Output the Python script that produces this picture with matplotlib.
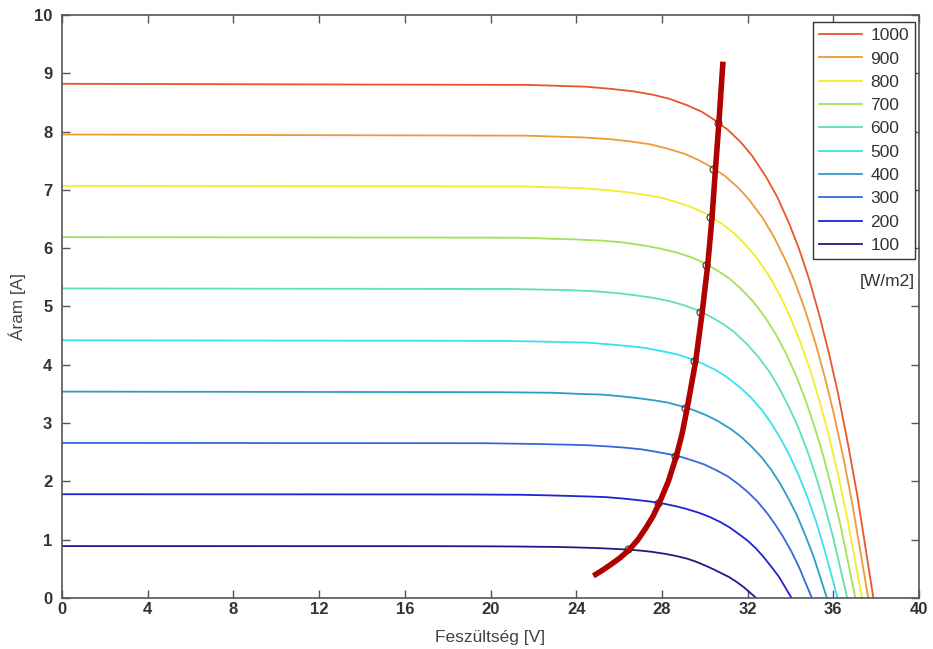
import matplotlib
matplotlib.use("Agg")
import matplotlib.pyplot as plt

# I-V curves, one pair of lists per irradiance [W/m2]
v_1000 = [0, 21.81, 24.46, 25.70, 26.68, 27.61, 28.37, 29.19, 29.86, 30.45, 31.08, 31.70, 32.20, 32.85,
          33.38, 33.92, 34.39, 34.87, 35.35, 35.80, 36.21, 36.68, 37.12, 37.87]
i_1000 = [8.82, 8.80, 8.77, 8.73, 8.69, 8.63, 8.56, 8.45, 8.34, 8.20, 8.03, 7.81, 7.59, 7.23,
          6.88, 6.44, 6.00, 5.47, 4.85, 4.19, 3.53, 2.65, 1.76, 0]

v_900 = [0, 21.68, 24.33, 25.56, 26.55, 27.48, 28.23, 29.05, 29.72, 30.31, 30.94, 31.55, 32.05, 32.70,
         33.22, 33.76, 34.22, 34.69, 35.17, 35.61, 36.01, 36.48, 36.90, 37.63]
i_900 = [7.95, 7.93, 7.90, 7.87, 7.83, 7.78, 7.71, 7.62, 7.51, 7.39, 7.24, 7.04, 6.84, 6.52,
         6.20, 5.80, 5.41, 4.93, 4.37, 3.78, 3.18, 2.39, 1.59, 0]

v_800 = [0, 21.50, 24.15, 25.38, 26.36, 27.29, 28.05, 28.87, 29.53, 30.12, 30.75, 31.36, 31.85, 32.49,
         33.01, 33.55, 34.00, 34.47, 34.94, 35.37, 35.76, 36.22, 36.63, 37.34]
i_800 = [7.07, 7.06, 7.03, 7.00, 6.96, 6.91, 6.86, 6.77, 6.68, 6.58, 6.43, 6.26, 6.08, 5.80,
         5.52, 5.16, 4.81, 4.38, 3.89, 3.36, 2.83, 2.12, 1.41, 0]

v_700 = [0, 21.29, 23.94, 25.18, 26.16, 27.09, 27.84, 28.66, 29.32, 29.91, 30.53, 31.15, 31.64, 32.27,
         32.79, 33.32, 33.77, 34.23, 34.69, 35.12, 35.50, 35.94, 36.34, 37.03]
i_700 = [6.19, 6.18, 6.15, 6.13, 6.10, 6.05, 6.00, 5.93, 5.85, 5.76, 5.63, 5.48, 5.32, 5.08,
         4.83, 4.52, 4.21, 3.84, 3.41, 2.94, 2.48, 1.86, 1.24, 0]

v_600 = [0, 21.02, 23.67, 24.91, 25.89, 26.81, 27.57, 28.38, 29.04, 29.63, 30.25, 30.86, 31.35, 31.98,
         32.49, 33.02, 33.46, 33.91, 34.37, 34.79, 35.16, 35.59, 35.98, 36.65]
i_600 = [5.31, 5.30, 5.28, 5.26, 5.23, 5.19, 5.15, 5.09, 5.02, 4.94, 4.83, 4.70, 4.57, 4.35,
         4.14, 3.88, 3.61, 3.29, 2.92, 2.52, 2.12, 1.59, 1.06, 0]

v_500 = [0, 20.68, 23.33, 24.56, 25.54, 26.47, 27.22, 28.04, 28.70, 29.29, 29.90, 30.51, 30.99, 31.62,
         32.13, 32.65, 33.08, 33.53, 33.98, 34.39, 34.75, 35.18, 35.55, 36.20]
i_500 = [4.42, 4.41, 4.39, 4.38, 4.35, 4.32, 4.29, 4.23, 4.18, 4.11, 4.02, 3.91, 3.80, 3.62,
         3.45, 3.23, 3.01, 2.74, 2.43, 2.10, 1.77, 1.33, 0.88, 0]

v_400 = [0, 20.29, 22.94, 24.17, 25.15, 26.08, 26.83, 27.64, 28.30, 28.89, 29.50, 30.10, 30.59, 31.21,
         31.71, 32.23, 32.66, 33.10, 33.54, 33.94, 34.30, 34.71, 35.08, 35.70]
i_400 = [3.54, 3.53, 3.52, 3.50, 3.49, 3.46, 3.43, 3.39, 3.35, 3.29, 3.22, 3.13, 3.04, 2.90,
         2.76, 2.58, 2.41, 2.20, 1.95, 1.68, 1.42, 1.06, 0.71, 0]

v_300 = [0, 19.70, 22.35, 23.58, 24.56, 25.48, 26.23, 27.05, 27.70, 28.29, 28.90, 29.50, 29.98, 30.60,
         31.10, 31.61, 32.03, 32.47, 32.90, 33.29, 33.64, 34.04, 34.40, 35.00]
i_300 = [2.66, 2.655, 2.64, 2.63, 2.62, 2.60, 2.58, 2.55, 2.51, 2.47, 2.42, 2.35, 2.29, 2.18,
         2.08, 1.94, 1.81, 1.65, 1.46, 1.26, 1.06, 0.80, 0.53, 0]

v_200 = [0, 18.85, 21.50, 22.74, 23.71, 24.64, 25.39, 26.20, 26.85, 27.44, 28.05, 28.64, 29.12, 29.74,
         30.23, 30.74, 31.16, 31.58, 32.01, 32.39, 32.73, 33.12, 33.47, 34.05]
i_200 = [1.78, 1.776, 1.77, 1.76, 1.75, 1.74, 1.73, 1.705, 1.68, 1.655, 1.62, 1.575, 1.53, 1.46,
         1.39, 1.30, 1.21, 1.10, 0.98, 0.85, 0.71, 0.53, 0.36, 0]

v_100 = [0, 17.31, 19.96, 21.19, 22.17, 23.10, 23.84, 24.66, 25.31, 25.89, 26.50, 27.09, 27.57, 28.18,
         28.67, 29.17, 29.58, 30.00, 30.42, 30.80, 31.13, 31.51, 31.84, 32.40]
i_100 = [0.89, 0.889, 0.886, 0.883, 0.879, 0.875, 0.869, 0.86, 0.851, 0.84, 0.828, 0.81, 0.79, 0.755,
         0.72, 0.675, 0.625, 0.56, 0.49, 0.42, 0.36, 0.27, 0.18, 0]

labels = ["1000", "900", "800", "700", "600", "500", "400", "300", "200", "100"]
colors = ["#e8562a", "#ee9a38", "#f2ec2a", "#a6e05a", "#5ee2b0",
          "#38e0f0", "#2e9cc8", "#3468dc", "#1e22d0", "#1c1c88"]

# maximum power points (small circles) and the MPP track (thick red line)
mpp_v = [30.6, 30.4, 30.26, 30.06, 29.8, 29.5, 29.1, 28.6, 27.8, 26.4]
mpp_i = [8.15, 7.36, 6.53, 5.715, 4.90, 4.07, 3.26, 2.44, 1.63, 0.832]

track_v = [24.8, 25.2, 25.6, 26.05, 26.48, 26.88, 27.25, 27.58, 27.88, 28.3, 28.68, 28.95, 29.18,
           29.58, 29.88, 30.14, 30.34, 30.5, 30.66, 30.85]
track_i = [0.38, 0.47, 0.57, 0.69, 0.83, 1.0, 1.2, 1.4, 1.63, 2.0, 2.44, 2.83, 3.26,
           4.07, 4.9, 5.72, 6.53, 7.36, 8.15, 9.2]

curves = [(v_1000, i_1000), (v_900, i_900), (v_800, i_800), (v_700, i_700), (v_600, i_600),
          (v_500, i_500), (v_400, i_400), (v_300, i_300), (v_200, i_200), (v_100, i_100)]

fig = plt.figure(figsize=(9.33, 6.49), dpi=100)
ax = fig.add_axes([0.0665, 0.0786, 0.9185, 0.8983])

for (v, i), lab, col in zip(curves, labels, colors):
    ax.plot(v, i, color=col, linewidth=1.3, label=lab)

ax.plot(mpp_v, mpp_i, linestyle="none", marker="o", markersize=5,
        markerfacecolor="none", markeredgecolor="#333333", markeredgewidth=0.8)
ax.plot(track_v, track_i, color="#b00000", linewidth=4, solid_capstyle="butt")

ax.set_xlim(0, 40)
ax.set_ylim(0, 10)
ax.set_xticks(range(0, 41, 4))
ax.set_yticks(range(0, 11))

ax.tick_params(direction="in", top=True, right=True, length=6, width=1, color="#555555",
               labelsize=12, labelcolor="#333333")
ax.tick_params(axis="x", pad=3)
ax.tick_params(axis="y", pad=7)
for lbl in ax.get_xticklabels() + ax.get_yticklabels():
    lbl.set_fontweight("bold")
    lbl.set_family("Liberation Sans")
for s in ax.spines.values():
    s.set_color("#555555")
    s.set_linewidth(1.2)

ax.set_xlabel("Feszültség [V]", fontsize=12.5, color="#444444", family="Liberation Sans", labelpad=9)
ax.set_ylabel("Áram [A]", fontsize=12.3, color="#444444", family="Liberation Sans", labelpad=6)

leg = ax.legend(loc="upper right", bbox_to_anchor=(0.9953, 0.988), borderaxespad=0,
                handlelength=2.5, handletextpad=0.45, labelspacing=0.47, borderpad=0.35,
                fancybox=False, framealpha=1, prop={"family": "Liberation Sans", "size": 12.5})
leg.get_frame().set_edgecolor("#333333")
leg.get_frame().set_linewidth(1.0)
for t in leg.get_texts():
    t.set_color("#333333")

ax.text(0.995, 0.543, "[W/m2]", transform=ax.transAxes, ha="right", va="center",
        fontsize=12.5, color="#333333", family="Liberation Sans")

fig.savefig("out.png", dpi=100)
